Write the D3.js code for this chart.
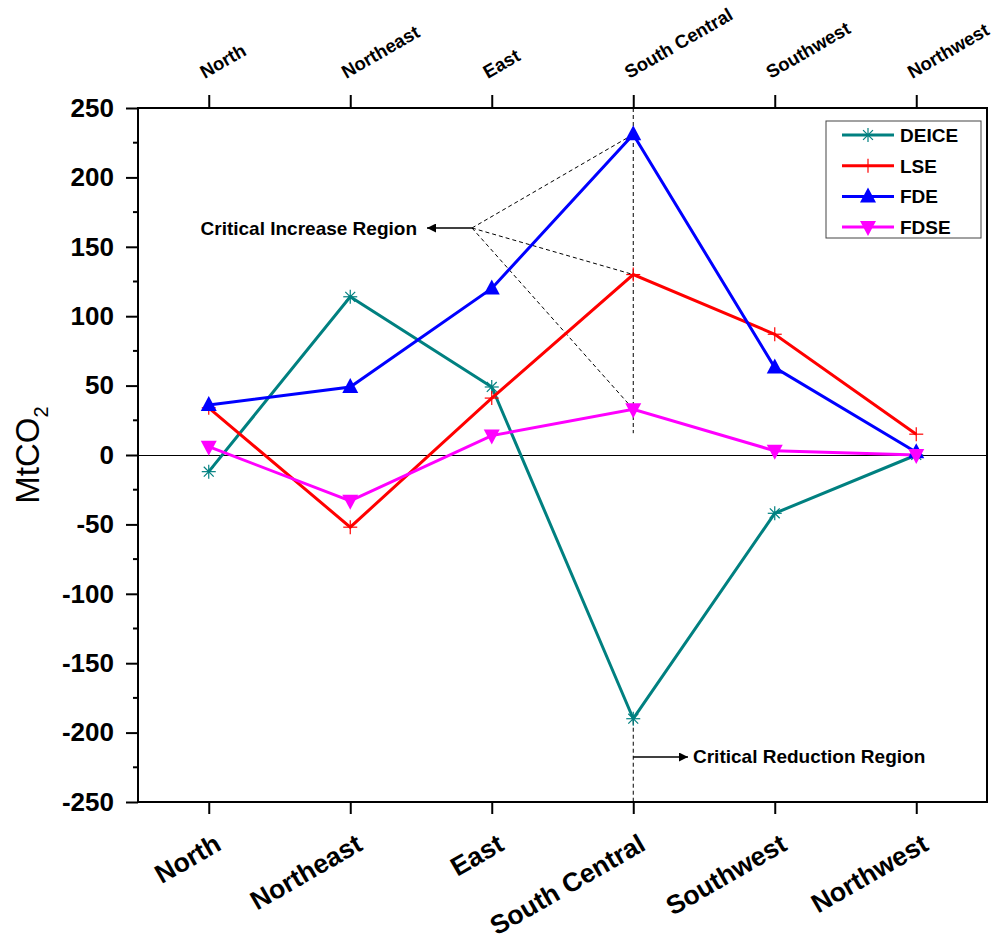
<!DOCTYPE html>
<html>
<head>
<meta charset="utf-8">
<script src="https://cdn.jsdelivr.net/npm/d3@7"></script>
<style>
  body { margin: 0; background: #fff; }
  svg { display: block; font-family: Arial, "Liberation Sans", sans-serif; }
</style>
</head>
<body>
<svg id="chart" width="995" height="945"></svg>
<script>
// Regions along the category axis
const regions = ["North", "Northeast", "East", "South Central", "Southwest", "Northwest"];

// Emission effects per region (MtCO2)
const deice = [-12, 114, 49, -190, -42, 0];
const lse   = [34, -52, 41, 130, 87, 15];
const fde   = [36, 49, 120, 231, 63, 2];
const fdse  = [6, -33, 14, 33, 3, 0];

const yTicks = [-250, -200, -150, -100, -50, 0, 50, 100, 150, 200, 250];

const seriesList = [
  { name: "DEICE", values: deice, color: "#008080", marker: "star" },
  { name: "LSE",   values: lse,   color: "#ff0000", marker: "plus" },
  { name: "FDE",   values: fde,   color: "#0000ff", marker: "up" },
  { name: "FDSE",  values: fdse,  color: "#ff00ff", marker: "down" }
];

const FONT = "Arial, 'Liberation Sans', sans-serif";
const svg = d3.select("#chart");
const L = 138, R = 987, T = 108, B = 802;

const x = d3.scalePoint().domain(regions).range([L, R]).padding(0.5);
const y = d3.scaleLinear().domain([-250, 250]).range([B, T]);

// arrow marker definitions
const defs = svg.append("defs");
defs.append("marker").attr("id", "arrowhead")
  .attr("viewBox", "0 0 10 10").attr("refX", 10).attr("refY", 5)
  .attr("markerWidth", 16).attr("markerHeight", 9).attr("markerUnits", "userSpaceOnUse")
  .attr("orient", "auto")
  .append("path").attr("d", "M0,0 L10,5 L0,10 Z").attr("fill", "#000");

// zero line
svg.append("line").attr("x1", L).attr("x2", R).attr("y1", y(0) + 0.5).attr("y2", y(0) + 0.5)
  .attr("stroke", "#000").attr("stroke-width", 1);

// left axis
const yAxis = svg.append("g").attr("transform", `translate(${L},0)`)
  .call(d3.axisLeft(y).tickValues(yTicks).tickSize(12).tickPadding(12)
    .tickFormat(d => String(d)));
yAxis.select(".domain").remove();
yAxis.selectAll(".tick line").attr("stroke-width", 2);
yAxis.selectAll(".tick text").attr("font-size", 26).attr("font-weight", "bold").attr("fill", "#000")
  .attr("font-family", FONT);
// minor ticks
const minor = d3.range(-225, 250, 50);
svg.append("g").selectAll("line").data(minor).join("line")
  .attr("x1", L - 5).attr("x2", L).attr("y1", d => y(d)).attr("y2", d => y(d))
  .attr("stroke", "#000").attr("stroke-width", 2);

// bottom axis
const xAxis = svg.append("g").attr("transform", `translate(0,${B})`)
  .call(d3.axisBottom(x).tickSize(12).tickFormat(""));
xAxis.select(".domain").remove();
xAxis.selectAll(".tick line").attr("stroke-width", 2);
svg.append("g").selectAll("text").data(regions).join("text")
  .attr("transform", d => `translate(${x(d) + 14},${B + 47}) rotate(-30)`)
  .attr("text-anchor", "end").attr("font-family", FONT)
  .attr("font-size", 26.5).attr("font-weight", "bold")
  .text(d => d);

// top axis
const xTop = svg.append("g").attr("transform", `translate(0,${T})`)
  .call(d3.axisTop(x).tickSize(13).tickFormat(""));
xTop.select(".domain").remove();
xTop.selectAll(".tick line").attr("stroke-width", 2);
svg.append("g").selectAll("text").data(regions).join("text")
  .attr("transform", d => `translate(${x(d) - 4},${T - 29}) rotate(-30)`)
  .attr("text-anchor", "start").attr("font-family", FONT)
  .attr("font-size", 18.5).attr("font-weight", "bold")
  .text(d => d);

// frame
svg.append("rect").attr("x", L).attr("y", T).attr("width", R - L).attr("height", B - T)
  .attr("fill", "none").attr("stroke", "#000").attr("stroke-width", 2);

// y-axis title
const yt = svg.append("text").attr("transform", `translate(39,${(T + B) / 2}) rotate(-90)`)
  .attr("text-anchor", "middle").attr("font-size", 33).attr("font-family", FONT);
yt.append("tspan").text("MtCO");
yt.append("tspan").attr("font-size", 20).attr("dy", 9).text("2");

// annotation guides
const sc = x("South Central");
const guide = svg.append("g").attr("stroke", "#000").attr("stroke-width", 1).attr("stroke-dasharray", "4,3");
guide.append("line").attr("x1", sc).attr("x2", sc).attr("y1", T).attr("y2", y(fdse[3]) + 24);
guide.append("line").attr("x1", sc).attr("x2", sc).attr("y1", y(deice[3]) + 2).attr("y2", B);
const hub = [472, 228];
[fde[3], lse[3], fdse[3]].forEach(v => {
  guide.append("line").attr("x1", hub[0]).attr("y1", hub[1]).attr("x2", sc).attr("y2", y(v));
});

// critical increase arrow + label
svg.append("line").attr("x1", hub[0]).attr("y1", hub[1]).attr("x2", 427).attr("y2", hub[1])
  .attr("stroke", "#000").attr("stroke-width", 1.6).attr("marker-end", "url(#arrowhead)");
svg.append("text").attr("x", 417).attr("y", 235).attr("text-anchor", "end").attr("font-family", FONT)
  .attr("font-size", 19).attr("font-weight", "bold").text("Critical Increase Region");

// critical reduction arrow + label
svg.append("line").attr("x1", sc).attr("y1", 757).attr("x2", 688).attr("y2", 757)
  .attr("stroke", "#000").attr("stroke-width", 1.6).attr("marker-end", "url(#arrowhead)");
svg.append("text").attr("x", 693).attr("y", 763).attr("font-family", FONT)
  .attr("font-size", 19).attr("font-weight", "bold").text("Critical Reduction Region");

// marker drawing
function drawMarker(g, type, color, cx, cy) {
  if (type === "star") {
    const r = 7;
    const p = g.append("g").attr("stroke", color).attr("stroke-width", 1.2);
    [0, 45, 90, 135].forEach(a => {
      const rad = a * Math.PI / 180;
      p.append("line").attr("x1", cx - r * Math.sin(rad)).attr("y1", cy - r * Math.cos(rad))
        .attr("x2", cx + r * Math.sin(rad)).attr("y2", cy + r * Math.cos(rad));
    });
  } else if (type === "plus") {
    const r = 7;
    const p = g.append("g").attr("stroke", color).attr("stroke-width", 1.2);
    p.append("line").attr("x1", cx - r).attr("x2", cx + r).attr("y1", cy).attr("y2", cy);
    p.append("line").attr("x1", cx).attr("x2", cx).attr("y1", cy - r).attr("y2", cy + r);
  } else if (type === "up") {
    g.append("path").attr("d", `M${cx},${cy - 9} L${cx + 8},${cy + 6} L${cx - 8},${cy + 6} Z`).attr("fill", color);
  } else {
    g.append("path").attr("d", `M${cx},${cy + 9} L${cx + 8},${cy - 6} L${cx - 8},${cy - 6} Z`).attr("fill", color);
  }
}

// series lines and markers
const line = d3.line().x((d, i) => x(regions[i])).y(d => y(d));
seriesList.forEach(s => {
  svg.append("path").datum(s.values).attr("d", line)
    .attr("fill", "none").attr("stroke", s.color).attr("stroke-width", 3).attr("stroke-linejoin", "miter");
});
seriesList.forEach(s => {
  const g = svg.append("g");
  s.values.forEach((v, i) => drawMarker(g, s.marker, s.color, x(regions[i]), y(v)));
});

// legend
const lg = svg.append("g");
lg.append("rect").attr("x", 826).attr("y", 121).attr("width", 155).attr("height", 117)
  .attr("fill", "#fff").attr("stroke", "#444").attr("stroke-width", 1);
seriesList.forEach((s, i) => {
  const ly = 135 + i * 30.7;
  lg.append("line").attr("x1", 842).attr("x2", 894).attr("y1", ly).attr("y2", ly)
    .attr("stroke", s.color).attr("stroke-width", 3);
  drawMarker(lg, s.marker, s.color, 868, ly);
  lg.append("text").attr("x", 900).attr("y", ly + 7).attr("font-family", FONT)
    .attr("font-size", 19).attr("font-weight", "bold").text(s.name);
});
</script>
</body>
</html>
